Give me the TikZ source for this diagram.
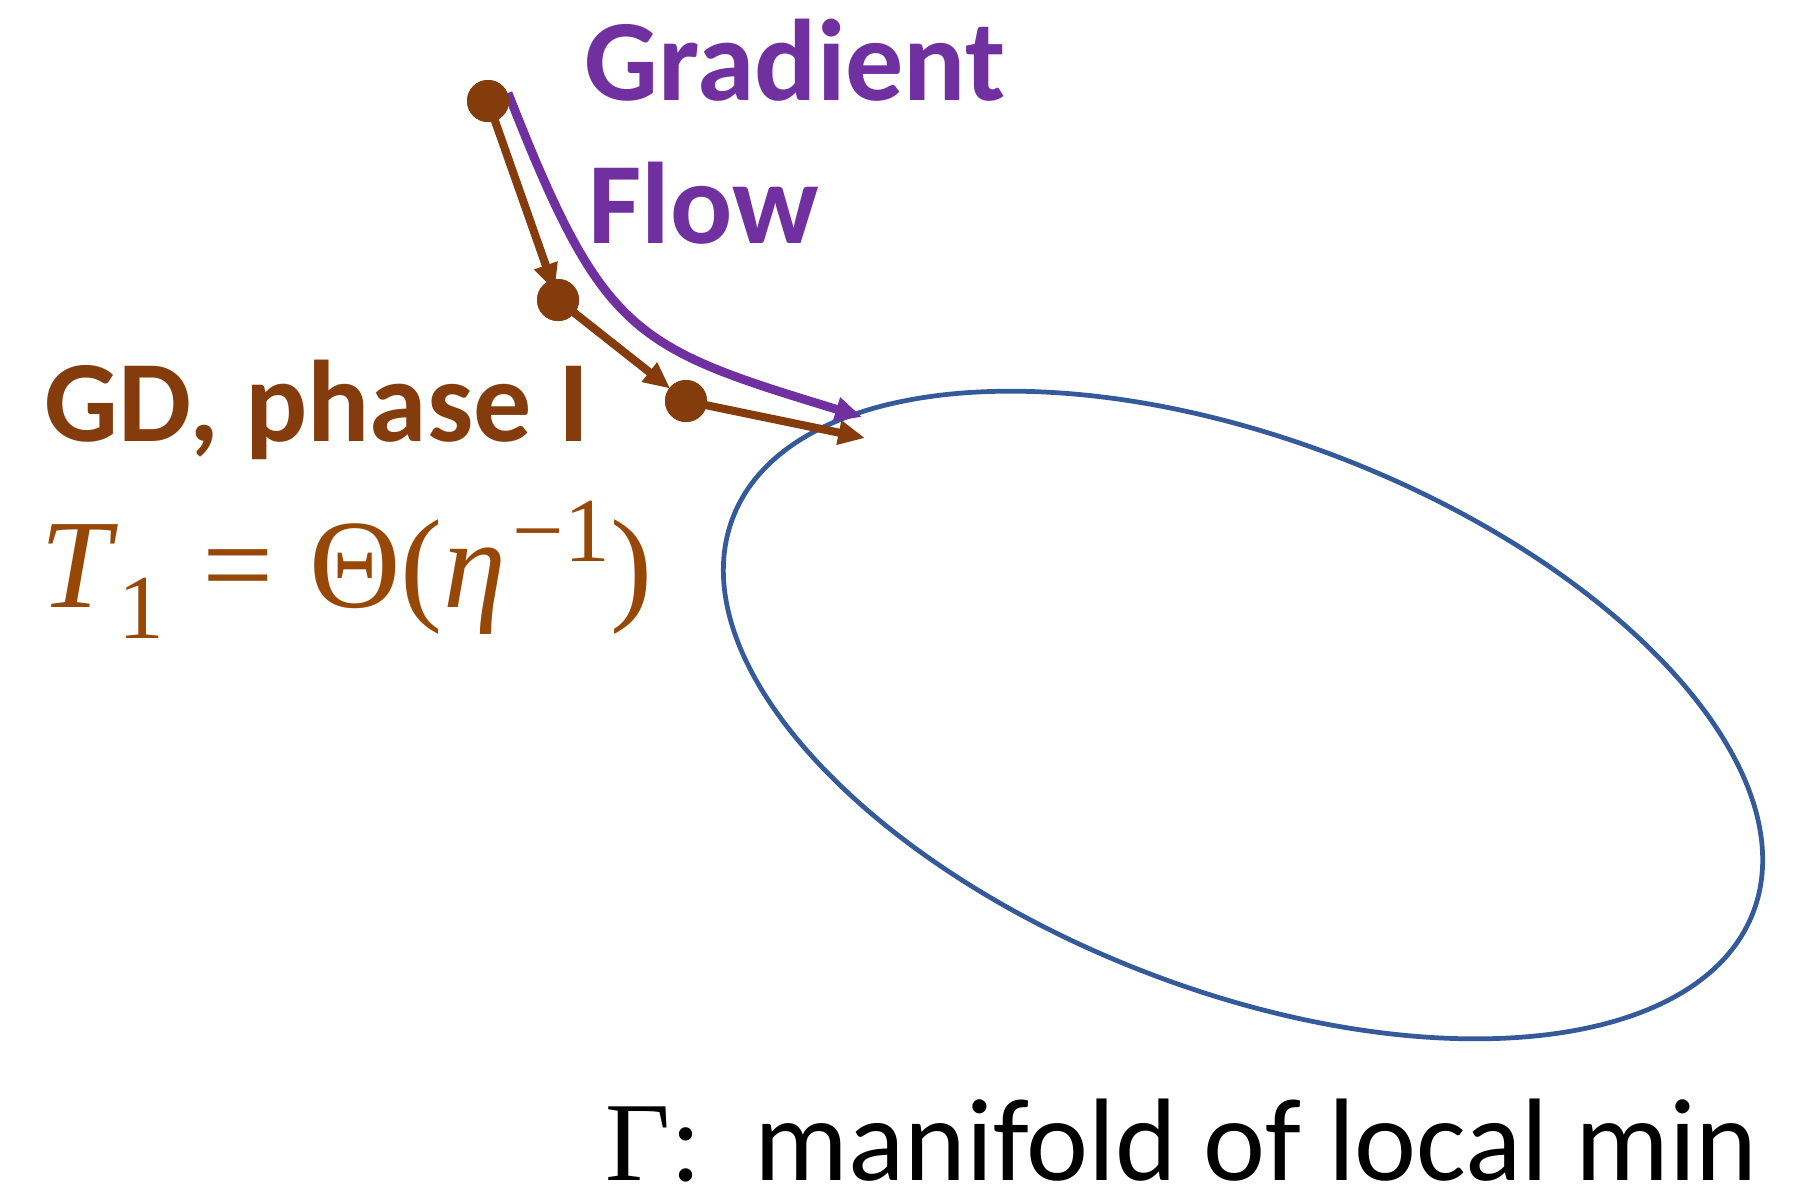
\documentclass[tikz,border=0pt]{standalone}
\usepackage{fontspec}
\setmainfont{Carlito}
\newfontfamily\tnr{Liberation Serif}
\usetikzlibrary{arrows.meta}
\definecolor{gdbrown}{HTML}{843C0C}
\definecolor{fmlbrown}{HTML}{974806}
\definecolor{gfpurple}{HTML}{7030A0}
\definecolor{manblue}{HTML}{345A99}
\tikzset{
  gddot/.style={circle, fill=gdbrown, inner sep=0pt, minimum size=0.42cm},
  gdarrow/.style={draw=gdbrown, line width=2.3pt, -{Triangle[length=7.6pt,width=6.6pt]}},
  gfarrow/.style={draw=gfpurple, line width=2.5pt, -{Triangle[length=7.6pt,width=6.6pt]}},
  bigbold/.style={font=\fontsize{33}{40}\selectfont\bfseries, inner sep=0pt, anchor=base west},
  manifold/.style={draw=manblue, line width=1.35pt},
}
\begin{document}
\begin{tikzpicture}[x=0.01cm, y=-0.01cm]
\useasboundingbox (0,0) rectangle (1795,1190);
% manifold
\draw[manifold, rotate around={-21.2:(1243,715)}] (1243,715) ellipse [x radius=547, y radius=275];
% gradient flow
\coordinate (gfs) at (508,93);
\coordinate (gfe) at (862,417);
\draw[gfarrow] (gfs) .. controls (603,335) and (632,347) .. (gfe);
% GD iterates
\node[gddot] (d1) at (488,101) {};
\node[gddot] (d2) at (558,300) {};
\node[gddot] (d3) at (686,401) {};
\coordinate (gde) at (865,438);
\draw[gdarrow, shorten >=2.85pt] (d1.center) -- (d2.center);
\draw[gdarrow, shorten >=5.7pt] (d2.center) -- (d3.center);
\draw[gdarrow] (d3.center) -- (gde);
\node[gddot] at (d1) {};
\node[gddot] at (d2) {};
\node[gddot] at (d3) {};
% labels
\node[bigbold, text=gfpurple] (lg) at (584,100) {Gradient};
\node[bigbold, text=gfpurple] (lf) at (588,243) {Flow};
\node[bigbold, text=gdbrown] (lgd) at (44,441) {GD, phase I};
\node[inner sep=0pt, anchor=base west, text=fmlbrown] (fml) at (40,607)
  {\tnr\fontsize{36}{42}\selectfont\textit{T}\raisebox{-9pt}{\fontsize{26}{30}\selectfont 1}\hspace{11pt}=\hspace{10pt}Θ(\textit{η}\hspace{2pt}\raisebox{13pt}{\fontsize{26}{30}\selectfont −1})};
\node[inner sep=0pt, anchor=base west] (lman) at (605,1180)
  {{\tnr\fontsize{32}{40}\selectfont Γ:}\hspace{15pt}{\fontsize{33.4}{40}\selectfont manifold of local min}};
\end{tikzpicture}
\end{document}
